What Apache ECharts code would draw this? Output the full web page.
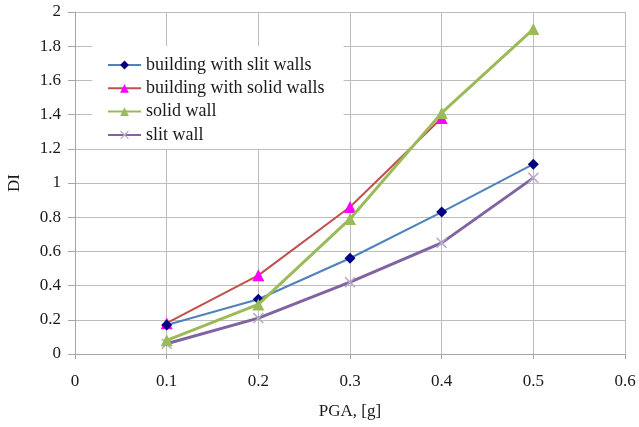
<!DOCTYPE html>
<html>
<head>
<meta charset="utf-8">
<script src="https://cdn.jsdelivr.net/npm/echarts@6/dist/echarts.min.js"></script>
<style>
  html, body { margin: 0; padding: 0; background: #fff; }
  #chart { width: 639px; height: 427px; }
</style>
</head>
<body>
<div id="chart"></div>
<script>
// PGA levels [g]
var pga = [0.1, 0.2, 0.3, 0.4, 0.5];

// Damage index per model
var buildingSlit  = [0.17, 0.32, 0.56, 0.83, 1.11];
var buildingSolid = [0.18, 0.46, 0.86, 1.38];
var solidWall     = [0.08, 0.29, 0.79, 1.41, 1.90];
var slitWall      = [0.06, 0.21, 0.42, 0.65, 1.03];

var seriesNames = [
  'building with slit walls',
  'building with solid walls',
  'solid wall',
  'slit wall'
];

function pairs(xs, ys) {
  return ys.map(function (y, i) { return [xs[i], y]; });
}

var serif = '"Liberation Serif", "DejaVu Serif", serif';
var crossPath = 'path://M0,1L1,0L5,4L9,0L10,1L6,5L10,9L9,10L5,6L1,10L0,9L4,5Z';
var tickFmt = function (v) { return String(Math.round(v * 10) / 10); };

var chart = echarts.init(document.getElementById('chart'), null, { renderer: 'canvas' });

chart.setOption({
  animation: false,
  backgroundColor: '#ffffff',
  grid: { left: 75, right: 14, top: 12, bottom: 73, outerBoundsMode: 'none', containLabel: false },
  legend: {
    orient: 'vertical',
    left: 92,
    top: 46,
    padding: [10, 19, 5, 15],
    backgroundColor: '#ffffff',
    borderWidth: 0,
    itemWidth: 33,
    itemHeight: 11,
    itemGap: 5.3,
    textStyle: { fontFamily: serif, fontSize: 18, color: '#1a1a1a', lineHeight: 18 },
    data: seriesNames
  },
  xAxis: {
    type: 'value',
    min: 0, max: 0.6, interval: 0.1,
    name: 'PGA, [g]',
    nameLocation: 'middle',
    nameGap: 49,
    nameTextStyle: { fontFamily: serif, fontSize: 17, color: '#1a1a1a' },
    axisLine: { show: true, lineStyle: { color: '#a6a6a6', width: 1 } },
    axisTick: { show: true, length: 5, lineStyle: { color: '#a6a6a6' } },
    axisLabel: { fontFamily: serif, fontSize: 17, color: '#1a1a1a', margin: 19, formatter: tickFmt },
    splitLine: { show: true, lineStyle: { color: '#bdbdbd', width: 1 } }
  },
  yAxis: {
    type: 'value',
    min: 0, max: 2, interval: 0.2,
    name: 'DI',
    nameLocation: 'middle',
    nameGap: 52,
    nameRotate: 90,
    nameTextStyle: { fontFamily: serif, fontSize: 17, color: '#1a1a1a' },
    axisLine: { show: true, lineStyle: { color: '#a6a6a6', width: 1 } },
    axisTick: { show: true, length: 7, lineStyle: { color: '#a6a6a6' } },
    axisLabel: { fontFamily: serif, fontSize: 17, color: '#1a1a1a', margin: 14, formatter: tickFmt },
    splitLine: { show: true, lineStyle: { color: '#bdbdbd', width: 1 } }
  },
  series: [
    {
      name: seriesNames[0],
      type: 'line',
      data: pairs(pga, buildingSlit),
      symbol: 'diamond',
      symbolSize: 11,
      lineStyle: { color: '#4f81bd', width: 2 },
      itemStyle: { color: '#000080' },
      z: 3
    },
    {
      name: seriesNames[1],
      type: 'line',
      data: pairs(pga, buildingSolid),
      symbol: 'triangle',
      symbolSize: 12,
      lineStyle: { color: '#c0504d', width: 2 },
      itemStyle: { color: '#ff00ff' },
      z: 2
    },
    {
      name: seriesNames[2],
      type: 'line',
      data: pairs(pga, solidWall),
      symbol: 'triangle',
      symbolSize: 12,
      lineStyle: { color: '#9bbb59', width: 3 },
      itemStyle: { color: '#9bbb59' },
      z: 4
    },
    {
      name: seriesNames[3],
      type: 'line',
      data: pairs(pga, slitWall),
      symbol: crossPath,
      symbolSize: 11,
      lineStyle: { color: '#8064a2', width: 3 },
      itemStyle: { color: '#b8aac8' },
      z: 1
    }
  ]
});
</script>
</body>
</html>
